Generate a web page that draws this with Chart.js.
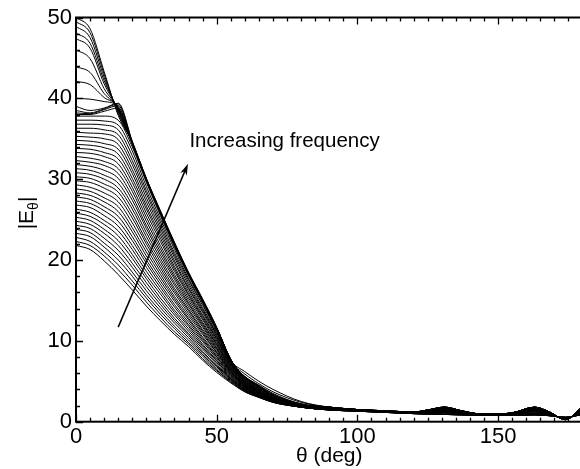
<!DOCTYPE html>
<html>
<head>
<meta charset="utf-8">
<script src="https://cdn.jsdelivr.net/npm/chart.js@4.4.1/dist/chart.umd.min.js"></script>
<style>
  html, body { margin: 0; padding: 0; background: #fff; overflow: hidden; }
  #wrap { width: 600px; height: 469px; }
</style>
</head>
<body>
<div id="wrap"><canvas id="pattern" width="600" height="469"></canvas></div>
<script>
// theta sample points (deg): main lobe, then far side lobes
const thetaHead = [0, 5, 10, 15, 20, 25, 30, 35, 40, 45, 50, 55, 60, 65, 70, 80];
const thetaTail = [90, 100, 110, 120, 125, 131, 137, 145, 155, 163, 168, 174, 180];

// |E_theta| main lobe, lowest frequency first
const lowFreqHeads = [
  [21.8, 21.3, 19.9, 18.2, 16.3, 14.3, 12.5, 10.8, 9.3, 7.6, 6.1, 4.8, 3.7, 3.0, 2.4, 1.8],
  [22.3, 21.8, 20.5, 18.8, 16.9, 14.8, 12.9, 11.1, 9.6, 7.8, 6.3, 4.9, 3.7, 3.0, 2.4, 1.8],
  [22.8, 22.3, 21.0, 19.4, 17.4, 15.3, 13.3, 11.5, 9.8, 8.1, 6.4, 5.0, 3.8, 3.1, 2.4, 1.8],
  [23.3, 22.9, 21.6, 20.0, 18.0, 15.7, 13.7, 11.8, 10.1, 8.3, 6.6, 5.1, 3.8, 3.1, 2.5, 1.8],
  [23.8, 23.4, 22.1, 20.6, 18.5, 16.2, 14.1, 12.2, 10.4, 8.5, 6.8, 5.2, 3.9, 3.1, 2.5, 1.8],
  [24.3, 23.9, 22.7, 21.2, 19.1, 16.7, 14.5, 12.5, 10.7, 8.7, 6.9, 5.3, 3.9, 3.2, 2.5, 1.8],
  [24.8, 24.4, 23.3, 21.8, 19.6, 17.2, 14.9, 12.8, 10.9, 9.0, 7.1, 5.3, 4.0, 3.2, 2.5, 1.8],
  [25.3, 24.9, 23.8, 22.4, 20.2, 17.7, 15.3, 13.2, 11.2, 9.2, 7.3, 5.4, 4.0, 3.2, 2.5, 1.8],
  [25.8, 25.4, 24.4, 23.0, 20.7, 18.1, 15.8, 13.5, 11.5, 9.4, 7.5, 5.5, 4.1, 3.3, 2.6, 1.8],
  [26.3, 25.9, 24.9, 23.6, 21.3, 18.6, 16.2, 13.8, 11.8, 9.6, 7.6, 5.6, 4.1, 3.3, 2.6, 1.8],
  [26.8, 26.5, 25.5, 24.2, 21.8, 19.1, 16.6, 14.2, 12.0, 9.9, 7.8, 5.7, 4.2, 3.3, 2.6, 1.8],
  [27.3, 27.0, 26.1, 24.8, 22.4, 19.6, 17.0, 14.5, 12.3, 10.1, 8.0, 5.8, 4.2, 3.4, 2.6, 1.9],
  [27.8, 27.5, 26.6, 25.4, 22.9, 20.0, 17.4, 14.9, 12.6, 10.3, 8.1, 5.9, 4.3, 3.4, 2.6, 1.9],
  [28.3, 28.0, 27.2, 26.0, 23.5, 20.5, 17.8, 15.2, 12.8, 10.5, 8.3, 6.0, 4.3, 3.4, 2.6, 1.9],
  [28.8, 28.5, 27.7, 26.6, 24.0, 21.0, 18.2, 15.5, 13.1, 10.8, 8.5, 6.1, 4.4, 3.5, 2.7, 1.9],
  [29.3, 29.0, 28.3, 27.2, 24.6, 21.5, 18.6, 15.9, 13.4, 11.0, 8.6, 6.2, 4.4, 3.5, 2.7, 1.9],
  [29.8, 29.6, 28.9, 27.8, 25.2, 22.0, 19.0, 16.2, 13.7, 11.2, 8.8, 6.2, 4.5, 3.6, 2.7, 1.9],
  [30.3, 30.1, 29.4, 28.4, 25.7, 22.4, 19.4, 16.5, 13.9, 11.4, 9.0, 6.3, 4.5, 3.6, 2.7, 1.9],
  [30.8, 30.6, 30.0, 28.9, 26.3, 22.9, 19.8, 16.9, 14.2, 11.7, 9.1, 6.4, 4.5, 3.6, 2.7, 1.9],
  [31.3, 31.1, 30.5, 29.5, 26.8, 23.4, 20.2, 17.2, 14.5, 11.9, 9.3, 6.5, 4.6, 3.7, 2.8, 1.9],
  [31.8, 31.6, 31.1, 30.1, 27.4, 23.9, 20.6, 17.6, 14.7, 12.1, 9.5, 6.6, 4.6, 3.7, 2.8, 1.9],
  [32.3, 32.1, 31.7, 30.7, 27.9, 24.3, 21.0, 17.9, 15.0, 12.3, 9.6, 6.7, 4.7, 3.7, 2.8, 1.9],
  [32.8, 32.6, 32.2, 31.3, 28.5, 24.8, 21.4, 18.2, 15.3, 12.6, 9.8, 6.8, 4.7, 3.8, 2.8, 2.0],
  [33.3, 33.2, 32.8, 31.9, 29.0, 25.3, 21.8, 18.6, 15.6, 12.8, 10.0, 6.9, 4.8, 3.8, 2.8, 2.0],
  [33.8, 33.7, 33.3, 32.5, 29.6, 25.8, 22.3, 18.9, 15.8, 13.0, 10.2, 7.0, 4.8, 3.8, 2.9, 2.0],
  [34.3, 34.2, 33.9, 33.1, 30.1, 26.3, 22.7, 19.2, 16.1, 13.2, 10.3, 7.1, 4.9, 3.9, 2.9, 2.0],
  [34.8, 34.7, 34.4, 33.7, 30.7, 26.7, 23.1, 19.6, 16.4, 13.5, 10.5, 7.2, 4.9, 3.9, 2.9, 2.0],
  [35.3, 35.2, 35.0, 34.3, 31.2, 27.2, 23.5, 19.9, 16.6, 13.7, 10.7, 7.2, 5.0, 3.9, 2.9, 2.0],
  [35.8, 35.7, 35.6, 34.9, 31.8, 27.7, 23.9, 20.3, 16.9, 13.9, 10.8, 7.3, 5.0, 4.0, 2.9, 2.0],
  [36.3, 36.3, 36.1, 35.5, 32.3, 28.2, 24.3, 20.6, 17.2, 14.1, 11.0, 7.4, 5.1, 4.0, 2.9, 2.0],
  [36.8, 36.8, 36.7, 36.1, 32.9, 28.6, 24.7, 20.9, 17.5, 14.4, 11.2, 7.5, 5.1, 4.0, 3.0, 2.0],
  [37.3, 37.3, 37.2, 36.7, 33.5, 29.1, 25.1, 21.3, 17.7, 14.6, 11.3, 7.6, 5.2, 4.1, 3.0, 2.0],
  [37.8, 37.8, 37.8, 37.3, 34.0, 29.6, 25.5, 21.6, 18.0, 14.8, 11.5, 7.7, 5.2, 4.1, 3.0, 2.0]
];

// curves with the small hump near 15 deg
const humpHeads = [
  [38.0, 38.0, 38.4, 38.8, 34.3, 29.8, 25.7, 21.8, 18.2, 14.9, 11.6, 7.7, 5.3, 4.2, 3.1, 2.0],
  [38.2, 38.1, 38.6, 39.1, 34.5, 29.9, 25.9, 21.9, 18.3, 15.0, 11.6, 7.6, 5.4, 4.3, 3.2, 2.1],
  [38.5, 38.2, 38.7, 39.3, 34.6, 30.0, 26.0, 22.0, 18.3, 15.0, 11.5, 7.5, 5.5, 4.4, 3.3, 2.1],
  [39.0, 38.5, 38.8, 39.4, 34.7, 30.1, 26.0, 22.0, 18.3, 14.9, 11.4, 7.5, 5.6, 4.5, 3.4, 2.2]
];

// highest frequencies, narrow beams
const highFreqHeads = [
  [40.0, 39.9, 39.6, 39.0, 34.5, 29.9, 25.8, 21.9, 18.2, 14.9, 11.6, 7.7, 5.4, 4.3, 3.2, 2.1],
  [42.1, 41.7, 40.1, 38.9, 34.5, 29.9, 25.8, 21.9, 18.2, 14.9, 11.6, 7.7, 5.4, 4.3, 3.2, 2.1],
  [43.9, 43.2, 40.6, 38.8, 34.5, 29.9, 25.8, 21.9, 18.2, 14.9, 11.6, 7.7, 5.4, 4.3, 3.2, 2.1],
  [46.0, 44.9, 41.2, 38.7, 34.4, 29.9, 25.8, 21.9, 18.2, 14.9, 11.6, 7.7, 5.4, 4.3, 3.2, 2.1],
  [47.4, 46.2, 41.8, 38.6, 34.4, 29.9, 25.8, 21.9, 18.3, 15.0, 11.6, 7.6, 5.4, 4.3, 3.2, 2.1],
  [48.1, 46.8, 42.2, 38.5, 34.4, 29.9, 25.9, 22.0, 18.3, 15.0, 11.6, 7.6, 5.5, 4.4, 3.3, 2.2],
  [48.9, 47.5, 42.6, 38.3, 34.5, 30.0, 25.9, 22.0, 18.3, 15.0, 11.6, 7.5, 5.6, 4.5, 3.5, 2.2],
  [49.5, 48.1, 43.0, 38.1, 34.5, 30.0, 26.0, 22.1, 18.4, 15.1, 11.6, 7.5, 5.9, 4.7, 3.7, 2.4],
  [50.0, 48.6, 43.3, 37.9, 34.6, 30.1, 26.1, 22.2, 18.5, 15.2, 11.7, 7.6, 6.2, 5.0, 4.0, 2.5]
];

// far side lobes (90..180 deg), several variants
const tailLevels = [
  [1.45, 1.30, 1.15, 1.00, 0.95, 0.90, 0.85, 0.80, 0.80, 0.85, 0.75, 0.55, 0.90],
  [1.50, 1.35, 1.20, 1.05, 1.05, 1.10, 0.95, 0.85, 0.90, 1.05, 0.85, 0.45, 1.10],
  [1.55, 1.40, 1.25, 1.10, 1.15, 1.30, 1.05, 0.90, 0.95, 1.25, 0.95, 0.40, 1.30],
  [1.60, 1.45, 1.30, 1.10, 1.25, 1.45, 1.15, 0.95, 1.00, 1.45, 1.05, 0.35, 1.50],
  [1.70, 1.50, 1.30, 1.15, 1.35, 1.60, 1.25, 0.95, 1.05, 1.60, 1.15, 0.30, 1.70],
  [1.80, 1.50, 1.35, 1.20, 1.45, 1.80, 1.35, 0.90, 1.10, 1.80, 1.25, 0.25, 1.90]
];

const xTickLabels = [0, 50, 100, 150];
const yTickLabels = [0, 10, 20, 30, 40, 50];
const xMinorStep = 5;
const yMinorStep = 2;

const arrowFrom = [15.0, 11.7];
const arrowTo = [39.8, 31.9];
const noteAt = [40.3, 34.0];
const noteText = "Increasing frequency";

function toPoints(head, tail) {
  const pts = thetaHead.map((t, i) => ({ x: t, y: head[i] }));
  return pts.concat(thetaTail.map((t, i) => ({ x: t, y: tail[i] })));
}

function curve(head, tail) {
  return {
    data: toPoints(head, tail),
    borderColor: "#000",
    backgroundColor: "#000",
    borderWidth: 1,
    pointRadius: 0,
    cubicInterpolationMode: "monotone",
    fill: false
  };
}

const datasets = [];
lowFreqHeads.forEach((h, k) => datasets.push(curve(h, tailLevels[Math.min(4, Math.floor(k / 6))])));
humpHeads.forEach(h => datasets.push(curve(h, tailLevels[4])));
highFreqHeads.forEach(h => datasets.push(curve(h, tailLevels[5])));

Chart.defaults.font.family = "'Liberation Sans', Arial, sans-serif";
Chart.defaults.color = "#000";

// IDL style box with inward ticks, arrow and texts
const framePlugin = {
  id: "frame",
  afterDraw(chart) {
    const ctx = chart.ctx;
    const { left, right, top, bottom } = chart.chartArea;
    const xs = chart.scales.x, ys = chart.scales.y;
    ctx.save();
    ctx.strokeStyle = "#000";
    ctx.lineWidth = 2;
    ctx.strokeRect(left, top, right - left, bottom - top);

    ctx.lineWidth = 1.3;
    ctx.beginPath();
    for (let v = xs.min; v <= xs.max; v += xMinorStep) {
      const px = Math.round(xs.getPixelForValue(v)) + 0.5;
      const len = v % 50 === 0 ? 7 : 4;
      ctx.moveTo(px, bottom); ctx.lineTo(px, bottom - len);
      ctx.moveTo(px, top); ctx.lineTo(px, top + len);
    }
    for (let v = ys.min; v <= ys.max; v += yMinorStep) {
      const py = Math.round(ys.getPixelForValue(v)) + 0.5;
      const len = v % 10 === 0 ? 7 : 4;
      ctx.moveTo(left, py); ctx.lineTo(left + len, py);
    }
    ctx.stroke();

    // arrow
    const sx = xs.getPixelForValue(arrowFrom[0]), sy = ys.getPixelForValue(arrowFrom[1]);
    const ex = xs.getPixelForValue(arrowTo[0]), ey = ys.getPixelForValue(arrowTo[1]);
    const ang = Math.atan2(ey - sy, ex - sx);
    ctx.lineWidth = 1.5;
    ctx.beginPath();
    ctx.moveTo(sx, sy);
    ctx.lineTo(ex - 6 * Math.cos(ang), ey - 6 * Math.sin(ang));
    ctx.stroke();
    ctx.fillStyle = "#000";
    ctx.beginPath();
    ctx.moveTo(ex, ey);
    ctx.lineTo(ex - 12 * Math.cos(ang - 0.3), ey - 12 * Math.sin(ang - 0.3));
    ctx.lineTo(ex - 8 * Math.cos(ang), ey - 8 * Math.sin(ang));
    ctx.lineTo(ex - 12 * Math.cos(ang + 0.3), ey - 12 * Math.sin(ang + 0.3));
    ctx.closePath();
    ctx.fill();

    // annotation
    ctx.font = "20.5px 'Liberation Sans', Arial, sans-serif";
    ctx.textAlign = "left";
    ctx.textBaseline = "alphabetic";
    ctx.fillText(noteText, xs.getPixelForValue(noteAt[0]), ys.getPixelForValue(noteAt[1]));

    // x title
    ctx.font = "21px 'Liberation Sans', Arial, sans-serif";
    ctx.textAlign = "center";
    ctx.fillText("\u03b8 (deg)", (left + 582.5) / 2, 462);

    // y title |E_theta|
    ctx.translate(33, 213);
    ctx.rotate(-Math.PI / 2);
    ctx.textAlign = "left";
    const big = "21px 'Liberation Sans', Arial, sans-serif";
    const small = "14px 'Liberation Sans', Arial, sans-serif";
    ctx.font = big;
    const w1 = ctx.measureText("|E").width, w3 = ctx.measureText("|").width;
    ctx.font = small;
    const w2 = ctx.measureText("\u03b8").width;
    let cx = -(w1 + w2 + w3) / 2;
    ctx.font = big; ctx.fillText("|E", cx, 0); cx += w1;
    ctx.font = small; ctx.fillText("\u03b8", cx, 5); cx += w2;
    ctx.font = big; ctx.fillText("|", cx, 0);
    ctx.restore();
  }
};

new Chart(document.getElementById("pattern").getContext("2d"), {
  type: "line",
  data: { datasets },
  options: {
    responsive: false,
    animation: false,
    devicePixelRatio: 1,
    layout: { padding: { top: 17.5, right: 600 - 582.5, left: 0, bottom: 0 } },
    plugins: { legend: { display: false }, tooltip: { enabled: false }, colors: { enabled: false } },
    scales: {
      x: {
        type: "linear",
        min: 0,
        max: 180,
        grid: { display: false, drawTicks: false },
        border: { display: false },
        ticks: { font: { size: 22 }, padding: 2, maxRotation: 0, autoSkip: false },
        afterBuildTicks: s => { s.ticks = xTickLabels.map(v => ({ value: v })); },
        afterFit: s => { s.height = 469 - 421.7; }
      },
      y: {
        min: 0,
        max: 50,
        grid: { display: false, drawTicks: false },
        border: { display: false },
        ticks: { font: { size: 22 }, padding: 4, autoSkip: false },
        afterBuildTicks: s => { s.ticks = yTickLabels.map(v => ({ value: v })); },
        afterFit: s => { s.width = 76; }
      }
    }
  },
  plugins: [framePlugin]
});
</script>
</body>
</html>
